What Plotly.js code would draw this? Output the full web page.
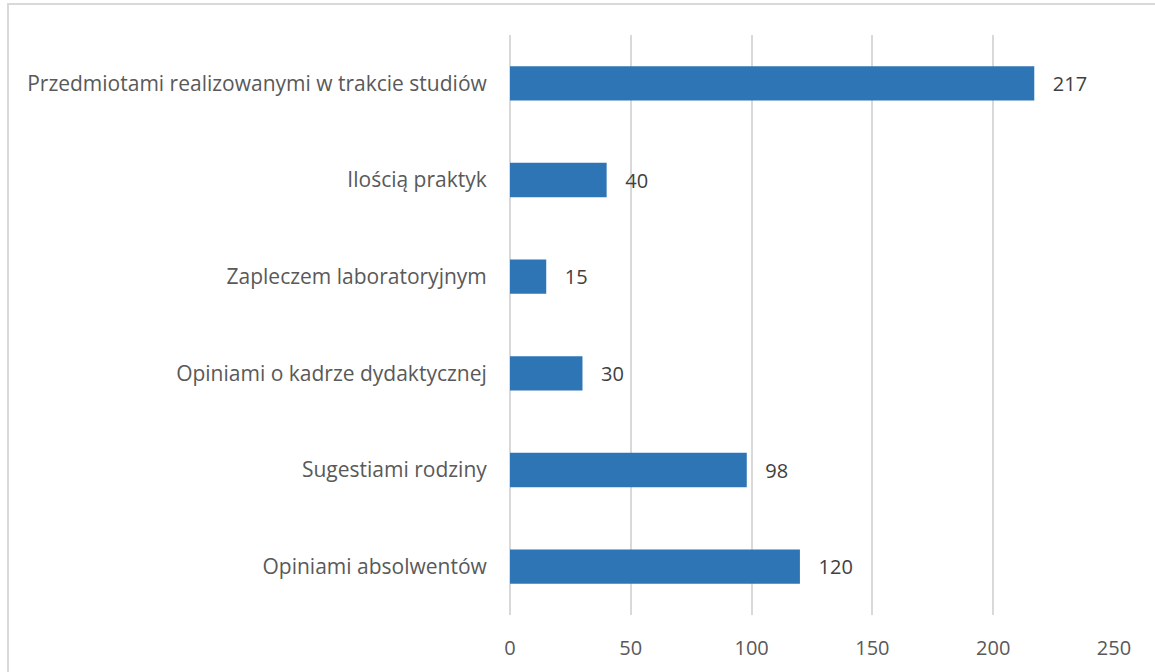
<!DOCTYPE html>
<html><head><meta charset="utf-8">
<script src="https://cdn.plot.ly/plotly-3.0.1.min.js"></script>
<style>
body{margin:0;background:#fff;overflow:hidden;}
#frame{position:absolute;left:7px;top:3px;width:1300px;height:900px;border:2px solid #d9d9d9;}
#chart{position:absolute;left:0;top:0;width:1155px;height:672px;}
</style></head>
<body><div id="frame"></div><div id="chart"></div>
<script>
const categories = ["Opiniami absolwentów","Sugestiami rodziny","Opiniami o kadrze dydaktycznej","Zapleczem laboratoryjnym","Ilością praktyk","Przedmiotami realizowanymi w trakcie studiów"];
const values = [120, 98, 30, 15, 40, 217];
const xTicks = [0, 50, 100, 150, 200, 250];

const fontFam = "'Open Sans', sans-serif";
Plotly.newPlot('chart', [{
  type:'bar', orientation:'h', y:categories, x:values,
  marker:{color:'#2e75b6'},
  text: values.map(v=>String(v)), textposition:'outside',
  texttemplate:'   %{text}',
  textfont:{family:fontFam, size:20, color:'#404040'},
  cliponaxis:false, hoverinfo:'none'
}], {
  width:1155, height:672,
  margin:{l:510, r:41, t:35, b:57, pad:0},
  paper_bgcolor:'rgba(0,0,0,0)', plot_bgcolor:'rgba(0,0,0,0)',
  bargap:0.645,
  showlegend:false,
  xaxis:{range:[0,250], tickvals:xTicks, ticktext:xTicks.map(String),
    showgrid:true, gridcolor:'#d9d9d9', gridwidth:2,
    zeroline:true, zerolinecolor:'#d9d9d9', zerolinewidth:2,
    ticks:'outside', ticklen:15, tickcolor:'rgba(0,0,0,0)',
    tickfont:{family:fontFam, size:20, color:'#595959'}, fixedrange:true},
  yaxis:{showgrid:false, zeroline:false, showline:false,
    ticks:'outside', ticklen:18, tickcolor:'rgba(0,0,0,0)',
    tickfont:{family:fontFam, size:21, color:'#595959'}, fixedrange:true},
  font:{family:fontFam}
}, {staticPlot:true});
</script></body></html>
